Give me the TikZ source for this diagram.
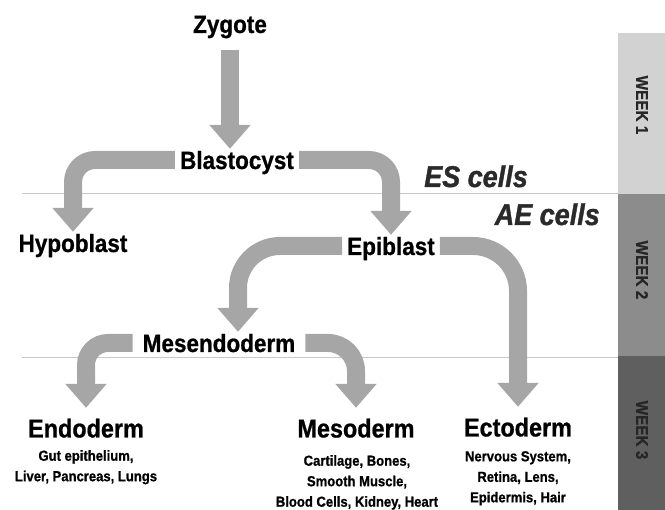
\documentclass[tikz,border=0pt]{standalone}
\usepackage{fontspec}
\setmainfont{Liberation Sans}[FakeStretch=0.9, BoldFeatures={FakeBold=0.8}, BoldItalicFeatures={FakeBold=1.2}]
\usetikzlibrary{arrows.meta}

\definecolor{flowgray}{HTML}{A6A6A6}
\definecolor{rulegray}{HTML}{C8C8C8}
\definecolor{weekone}{HTML}{D2D2D2}
\definecolor{weektwo}{HTML}{8C8C8C}
\definecolor{weekthree}{HTML}{5F5F5F}
\definecolor{cellgray}{HTML}{2A2A2A}

\newcommand{\stagefont}{\fontsize{25}{25}\selectfont\bfseries}
\newcommand{\layerfont}{\fontsize{26}{26}\selectfont\bfseries}
\newcommand{\detailfont}{\fontsize{14.5}{20.5}\selectfont\bfseries}
\newcommand{\cellsfont}{\fontsize{30}{30}\selectfont\bfseries\itshape}
\newcommand{\weekfont}{\fontsize{17}{17}\selectfont\bfseries}

\begin{document}
\begin{tikzpicture}[x=1pt,y=-1pt,>={Triangle[width=40pt,length=24pt]},line join=round]
        \tikzstyle{stagenode}=[font=\stagefont, text height=18pt, text depth=0pt, inner sep=2pt, inner xsep=5pt]
        \tikzstyle{layernode}=[font=\layerfont, text height=19pt, text depth=0pt, inner sep=2pt]
        \tikzstyle{detailnote}=[font=\detailfont, align=center, anchor=north, inner sep=0pt]
        \tikzstyle{cellnote}=[font=\cellsfont, text=cellgray, text height=22pt, text depth=0pt, anchor=east, inner sep=0pt]
        \tikzstyle{weeklabel}=[font=\weekfont, text=black!85, rotate=-90]
        \tikzstyle{flowarrow}=[->, draw=flowgray, line width=18pt]
        \useasboundingbox (0,0) rectangle (665,510);

        % week bar on the right
        \fill[weekone]   (618,33)  rectangle (665,194);
        \fill[weektwo]   (618,194) rectangle (665,356);
        \fill[weekthree] (618,356) rectangle (665,510);
        \node[weeklabel] (wk1) at (642,105) {WEEK 1};
        \node[weeklabel] (wk2) at (642,270) {WEEK 2};
        \node[weeklabel] (wk3) at (642,430) {WEEK 3};

        \draw[rulegray, line width=0.8pt] (22,193.5) -- (618,193.5);
        \draw[rulegray, line width=0.8pt] (22,357) -- (618,357);

        \node[cellnote] (es) at (528,176) {ES cells};
        \node[cellnote] (ae) at (600,214) {AE cells};

        \node[stagenode] (zyg)     at (230,24)  {Zygote};
        \node[stagenode] (blast)   at (237,160) {Blastocyst};
        \node[stagenode] (hypo)    at (73,243)  {Hypoblast};
        \node[stagenode] (epi)     at (391,246) {Epiblast};
        \node[stagenode, inner xsep=10pt] (mesendo) at (219,343) {Mesendoderm};

        \node[layernode] (endo) at (86,428)  {Endoderm};
        \node[layernode] (meso) at (356,428) {Mesoderm};
        \node[layernode] (ecto) at (518,427) {Ectoderm};
        \node[detailnote] (endodet) at (86,450)  {Gut epithelium,\\Liver, Pancreas, Lungs};
        \node[detailnote] (mesodet) at (357,455) {Cartilage, Bones,\\Smooth Muscle,\\Blood Cells, Kidney, Heart};
        \node[detailnote] (ectodet) at (518,451) {Nervous System,\\Retina, Lens,\\Epidermis, Hair};

        \draw[flowarrow, shorten <=15pt] (zyg.south) -- (zyg.south |- blast.north);
        \draw[flowarrow, rounded corners=22pt] (blast.west) -| (hypo.north);
        \draw[flowarrow, rounded corners=22pt] (blast.east) -| (epi.north);
        \draw[flowarrow, rounded corners=42pt] (epi.west) -| ([xshift=19pt]mesendo.north);
        \draw[flowarrow, rounded corners=45pt, shorten >=8.5pt] (epi.east) -| (ecto.north);
        \draw[flowarrow, rounded corners=22pt, shorten >=8.5pt] (mesendo.west) -| (endo.north);
        \draw[flowarrow, rounded corners=28pt, shorten >=8.5pt] (mesendo.east) -| (meso.north);

      \end{tikzpicture}
\end{document}
